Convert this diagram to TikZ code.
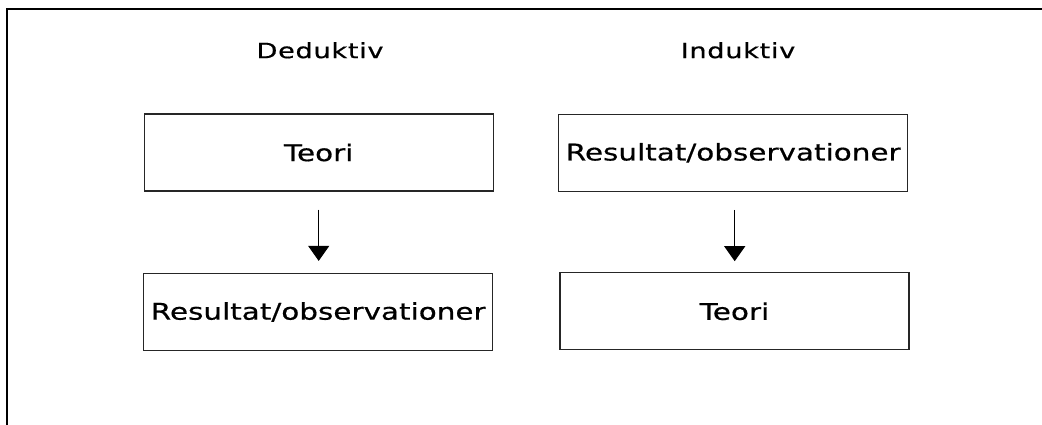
\documentclass[tikz,border=0pt]{standalone}
\usepackage{fontspec}
\usetikzlibrary{arrows.meta}
\newfontfamily\boxfont[FakeStretch=1.28,FakeBold=0.6]{DejaVu Sans}
\newfontfamily\labelfont[FakeStretch=1.3,LetterSpace=3,FakeBold=0.6]{DejaVu Sans}
\tikzset{
  stepbox/.style={draw=black!85, line width=1.2pt, minimum width=349pt, minimum height=77pt, inner sep=0pt, font=\boxfont\fontsize{23}{27}\selectfont},
  headlabel/.style={inner sep=0pt, font=\labelfont\fontsize{21}{25}\selectfont},
  flowarrow/.style={line width=1pt, -{Triangle[width=21pt,length=15pt]}},
  frameline/.style={line width=2pt, black}
}
\begin{document}
\begin{tikzpicture}[x=1pt,y=-1pt]
\useasboundingbox (0,0) rectangle (1042,425);
\coordinate (ftl) at (7,9.5);
\coordinate (ftr) at (1042,9.5);
\coordinate (fbl) at (7,425);
\draw[frameline] (fbl) -- (ftl) -- (ftr);
\node[headlabel] (ded) at (320,50.3) {Deduktiv};
\node[headlabel] (ind) at (738,50.3) {Induktiv};
\node[stepbox] (b1) at (318.7,152.5) {Teori};
\node[stepbox] (b2) at (318.2,312) {Resultat/observationer};
\node[stepbox] (b3) at (733.2,152.8) {Resultat/observationer};
\node[stepbox] (b4) at (734.5,311.3) {Teori};
\draw[flowarrow, shorten <=18pt, shorten >=12pt] (b1.south) -- (b1.south |- b2.north);
\draw[flowarrow, shorten <=18pt, shorten >=11pt] ([xshift=1.5pt]b3.south) -- ([xshift=1.5pt]b3.south |- b4.north);
\end{tikzpicture}
\end{document}
